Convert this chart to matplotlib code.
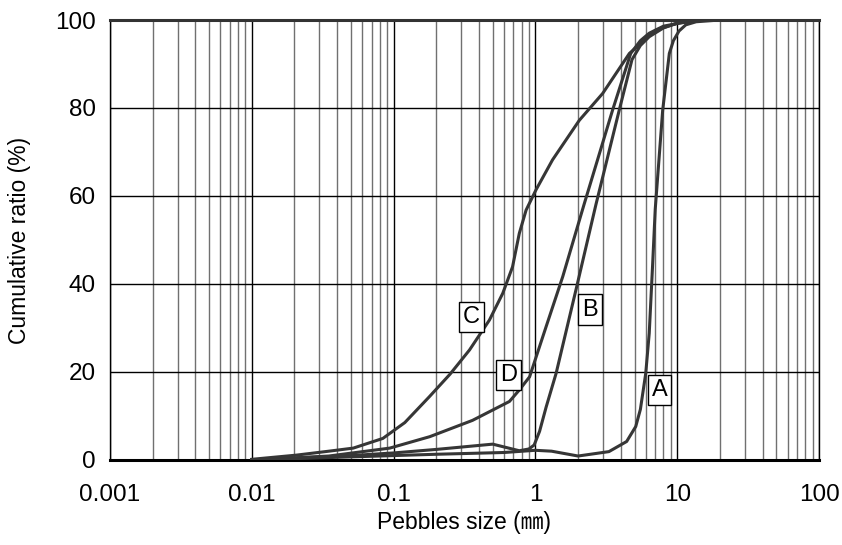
import numpy as np
import matplotlib
matplotlib.use("Agg")
import matplotlib.pyplot as plt
from matplotlib.ticker import FixedLocator, NullFormatter

plt.rcParams['font.family'] = ['Liberation Sans', 'Noto Sans CJK JP', 'DejaVu Sans']

# ---- data ----
a_x = [0.01, 0.02, 0.05, 0.1, 0.2, 0.6, 1.0, 1.3, 2.0, 3.3, 4.4, 5.1, 5.5, 6.0, 6.35, 6.7, 7.0, 7.9, 8.8, 9.4, 10.3, 11.5, 13.6, 20, 100]
a_y = [0, 0.3, 0.7, 1.0, 1.3, 1.7, 2.2, 2.0, 0.9, 1.9, 4.2, 7.6, 11.5, 19.7, 28.8, 44, 57, 79.5, 92.4, 95.3, 97.5, 98.9, 99.6, 100, 100]

b_x = [0.01, 0.02, 0.05, 0.1, 0.2, 0.5, 0.77, 0.9, 0.98, 1.07, 1.19, 1.4, 1.93, 2.67, 3.9, 4.8, 5.5, 6.35, 8.0, 9.8, 15, 100]
b_y = [0, 0.4, 1.0, 1.6, 2.4, 3.6, 2.1, 2.5, 3.4, 6.5, 12, 19.7, 38.6, 58, 79.5, 91, 94.2, 96.2, 98.2, 99.2, 100, 100]

c_x = [0.01, 0.0206, 0.035, 0.052, 0.084, 0.12, 0.179, 0.25, 0.343, 0.474, 0.589, 0.69, 0.77, 0.86, 1.01, 1.32, 2.04, 2.98, 4.6, 7.06, 10.8, 15, 100]
c_y = [0.15, 1.1, 2.0, 2.7, 4.9, 8.5, 14.4, 19.5, 25, 31.8, 37.9, 43.9, 51.5, 56.8, 61.4, 68.2, 77.2, 83.3, 92.4, 97.7, 99.6, 100, 100]

d_x = [0.01, 0.035, 0.094, 0.18, 0.36, 0.656, 0.77, 0.91, 1.19, 1.56, 2.2, 3.5, 4.7, 5.5, 6.35, 8.0, 10.8, 15, 100]
d_y = [0, 0.9, 2.7, 5.3, 9.0, 13.3, 15.9, 18.9, 30.3, 41.7, 58, 79.5, 92.4, 95.3, 97, 98.6, 99.4, 100, 100]

labels = ['A', 'B', 'C', 'D']
label_pos = [(7.49, 15.9), (2.43, 34.2), (0.355, 32.4), (0.648, 19.3)]

xticks = [0.001, 0.01, 0.1, 1, 10, 100]
xtick_labels = ['0.001', '0.01', '0.1', '1', '10', '100']
yticks = [0, 20, 40, 60, 80, 100]

line_col = '#363636'

fig = plt.figure(figsize=(8.42, 5.45), dpi=100)
ax = fig.add_axes([0.1306, 0.156, 0.8421, 0.8073])

# vertical grid at every 1..9 x decade
minor = [m * 10.0**e for e in range(-3, 2) for m in range(2, 10)]
for v in minor:
    ax.axvline(v, color='#707070', lw=1.0, zorder=1)
for v in xticks:
    ax.axvline(v, color='black', lw=1.0, zorder=1)
for v in yticks[1:]:
    ax.axhline(v, color='black', lw=1.0, zorder=1)

for xs, ys in [(a_x, a_y), (b_x, b_y), (c_x, c_y), (d_x, d_y)]:
    ax.plot(xs, ys, color=line_col, lw=2.2, solid_joinstyle='round', zorder=3)

for lab, (lx, ly) in zip(labels, label_pos):
    ax.text(lx, ly, lab, ha='center', va='center', fontsize=17, zorder=5,
            bbox=dict(boxstyle='square,pad=0.17', fc='white', ec='black', lw=1.0))

ax.set_xscale('log')
ax.set_xlim(0.001, 100)
ax.set_ylim(0, 100)
ax.xaxis.set_major_locator(FixedLocator(xticks))
ax.set_xticklabels(xtick_labels)
ax.xaxis.set_minor_formatter(NullFormatter())
ax.xaxis.set_minor_locator(FixedLocator([]))
ax.set_yticks(yticks)
ax.tick_params(axis='x', length=0, labelsize=17.5, pad=17)
ax.tick_params(axis='y', length=0, labelsize=17.5, pad=10)

for s in ['left', 'right']:
    ax.spines[s].set_linewidth(1.0)
ax.spines['bottom'].set_linewidth(2.2)
ax.spines['top'].set_linewidth(2.2)
ax.spines['top'].set_color('#333333')

ax.set_xlabel('Pebbles size (㎜)', fontsize=16.5, va='center')
ax.set_ylabel('Cumulative ratio (%)', fontsize=16.5, va='center')
ax.xaxis.set_label_coords(0.5, -0.143)
ax.yaxis.set_label_coords(-0.127, 0.5)

fig.savefig('out.png', dpi=100)
